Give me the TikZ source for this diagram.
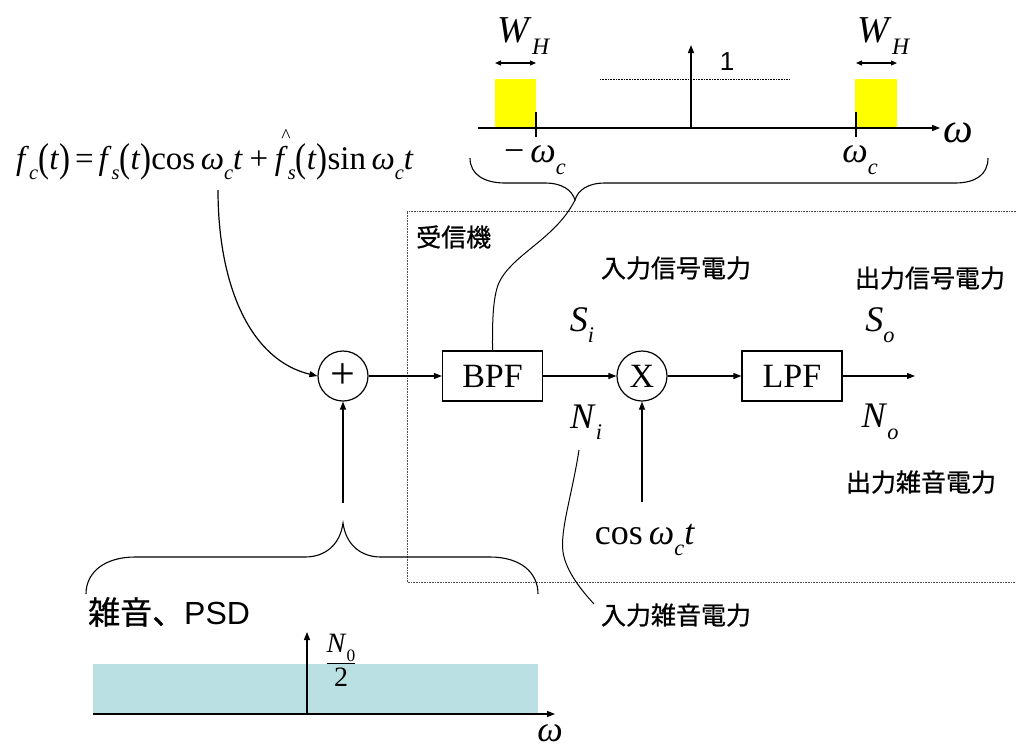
\documentclass[tikz,border=0pt]{standalone}
\usepackage{fontspec}
\usepackage{graphicx}
\setmainfont{Liberation Serif}
\newfontfamily\jp[FakeBold=0.8]{Noto Sans CJK JP}
\newfontfamily\sansf{Liberation Sans}
\usetikzlibrary{arrows.meta}
\definecolor{bandyellow}{RGB}{255,255,0}
\definecolor{psdcyan}{RGB}{186,224,227}
% italic variables and lowered italic subscripts, set in the serif text font
\newcommand\iv[1]{\textit{#1}}
\newcommand\sbs[1]{\raisebox{-0.32em}{\fontsize{0.62\dimexpr\fontdimen6\font\relax}{1em}\selectfont\textit{#1}}}
\newcommand\sbu[1]{\raisebox{-0.32em}{\fontsize{0.62\dimexpr\fontdimen6\font\relax}{1em}\selectfont #1}}
\newcommand\hatf{\makebox[0pt][l]{\kern0.2em\raisebox{0.8em}{\fontsize{0.6\dimexpr\fontdimen6\font\relax}{1em}\selectfont\textasciicircum}}\iv{f}}
% tall parentheses
\newcommand\lpar{\raisebox{-0.07em}{\scalebox{1}[1.22]{(}}}
\newcommand\rpar{\raisebox{-0.07em}{\scalebox{1}[1.22]{)}}}
\tikzset{
  wire/.style={line width=1.2pt,-{Triangle[length=8pt,width=6pt]}},
  thin/.style={line width=1.1pt},
  blk/.style={draw,line width=1.2pt,minimum width=100pt,minimum height=50pt,inner sep=0pt,
    font=\fontsize{34}{40}\selectfont},
  junc/.style={draw,circle,line width=1.2pt,minimum size=50pt,inner sep=0pt,
    font=\fontsize{34}{40}\selectfont},
  jlab/.style={inner sep=0pt,font=\jp\fontsize{25}{28}\selectfont},
  mlab/.style={inner sep=0pt,font=\fontsize{36}{40}\selectfont},
  lead/.style={line width=1pt},
  frame/.style={densely dotted,line width=0.6pt,black!70},
}
\begin{document}
\begin{tikzpicture}[x=1pt,y=-1pt]
\useasboundingbox (0,0) rectangle (1016,748);

% ---------- upper spectrum (band-pass response) ----------
\fill[bandyellow] (495,79) rectangle (536,128);
\fill[bandyellow] (855,79) rectangle (897,128);
\coordinate (axTs) at (478,128);
\coordinate (axTe) at (940,128);
\draw[wire] (axTs) -- (axTe);
\draw[thin] (536,112) -- (536,137);
\draw[thin] (856,112) -- (856,137);
\coordinate (impB) at (691,128);
\coordinate (impT) at (691,45);
\draw[wire] (impB) -- (impT);
\draw[densely dotted,line width=0.6pt] (600,79) -- (789,79);
\node[inner sep=0pt,font=\sansf\fontsize{26}{28}\selectfont] (one) at (727,62) {1};
\draw[line width=1.2pt,{Triangle[length=6pt,width=5pt]}-{Triangle[length=6pt,width=5pt]}] (495,63) -- (536,63);
\draw[line width=1.2pt,{Triangle[length=6pt,width=5pt]}-{Triangle[length=6pt,width=5pt]}] (856,63) -- (897,63);
\node[mlab,font=\fontsize{38}{40}\selectfont] (whL) at (524,36) {\iv{W}\sbs{H}};
\node[mlab,font=\fontsize{38}{40}\selectfont] (whR) at (884,36) {\iv{W}\sbs{H}};
\node[mlab,font=\fontsize{42}{44}\selectfont] (omT) at (958,133) {\iv{ω}};
\node[mlab] (wcL) at (535,160) {−\,\iv{ω}\sbs{c}};
\node[mlab] (wcR) at (860,160) {\iv{ω}\sbs{c}};

% brace under the upper spectrum
\coordinate (braceT) at (575,200);
\draw[thin] (470,158) .. controls (470,175) and (485,183) .. (505,183) -- (545,183)
  .. controls (562,183) and (572,190) .. (braceT)
  .. controls (578,190) and (588,183) .. (605,183) -- (955,183)
  .. controls (975,183) and (988,175) .. (988,158);

% ---------- transmitted signal ----------
\node[inner sep=0pt,font=\fontsize{33}{36}\selectfont] (fc) at (215,155)
  {\iv{f}\sbs{c}\lpar\iv{t}\rpar\kern0.15em=\kern0.15em\iv{f}\sbs{s}\lpar\iv{t}\rpar cos\,\iv{ω}\sbs{c}\iv{t}\kern0.2em+\kern0.2em\hatf\sbs{s}\lpar\iv{t}\rpar sin\,\iv{ω}\sbs{c}\iv{t}};

% ---------- receiver frame ----------
\draw[frame] (1016,211) -- (407,211) -- (407,582) -- (1016,582);
\node[jlab,anchor=west] (rx) at (416,237) {受信機};

% ---------- block chain ----------
\node[junc,font=\fontsize{44}{44}\selectfont] (sum) at (343,376) {+};
\node[blk] (bpf) at (492.5,376) {BPF};
\node[junc] (mix) at (642,376) {X};
\node[blk] (lpf) at (792,376) {LPF};
\coordinate (out) at (915,376);
\draw[wire] (sum) -- (bpf);
\draw[wire] (bpf) -- (mix);
\draw[wire] (mix) -- (lpf);
\draw[wire] (lpf) -- (out);

\coordinate (fcFoot) at (218,190);
\draw[wire] (fcFoot) .. controls (218,285) and (250,360) .. (sum.west);
\draw[lead] (braceT) .. controls (555,240) and (510,255) .. (498,285)
  .. controls (492,302) and (492.5,330) .. (bpf.north);

% carrier
\node[mlab] (cosw) at (645,540) {cos\,\iv{ω}\sbs{c}\iv{t}};
\coordinate (cosTop) at (642,502);
\draw[wire] (cosTop) -- (mix.south);

% power labels
\node[mlab] (si) at (582,325) {\iv{S}\sbs{i}};
\node[mlab] (so) at (880,325) {\iv{S}\sbs{o}};
\node[mlab] (ni) at (586,422) {\iv{N}\sbs{i}};
\node[mlab] (no) at (880,422) {\iv{N}\sbs{o}};
\node[jlab] (pin) at (676,268) {入力信号電力};
\node[jlab] (pout) at (930,278) {出力信号電力};
\node[jlab] (nout) at (921,482) {出力雑音電力};
\node[jlab] (nin) at (676,615) {入力雑音電力};
\coordinate (niFoot) at (579,450);
\coordinate (ninHead) at (594,604);
\draw[lead] (niFoot) .. controls (572,495) and (560,530) .. (563,552)
  .. controls (566,572) and (583,592) .. (ninHead);

% ---------- noise input and its PSD ----------
\coordinate (nzTop) at (343,503);
\draw[wire] (nzTop) -- (sum.south);
\coordinate (braceB) at (343,523);
\draw[thin] (86,594) .. controls (86,572) and (105,557) .. (135,557) -- (305,557)
  .. controls (325,557) and (340,545) .. (braceB)
  .. controls (346,545) and (361,557) .. (381,557) -- (490,557)
  .. controls (520,557) and (538,572) .. (538,594);

\node[inner sep=0pt,anchor=west,font=\fontsize{32}{36}\selectfont] (psd) at (88,612)
  {{\jp 雑音、}{\sansf PSD}};
\fill[psdcyan] (93,664) rectangle (538,714);
\coordinate (axBs) at (93,714);
\coordinate (axBe) at (555,714);
\draw[wire] (axBs) -- (axBe);
\coordinate (pB) at (307,714);
\coordinate (pT) at (307,632);
\draw[wire] (pB) -- (pT);
\node[inner sep=0pt,font=\fontsize{28}{30}\selectfont] (nhalf) at (341,660)
  {$\displaystyle\frac{\mbox{\iv{N}\sbu{0}}}{\mbox{2}}$};
\node[mlab] (omB) at (550,733) {\iv{ω}};
\end{tikzpicture}
\end{document}
